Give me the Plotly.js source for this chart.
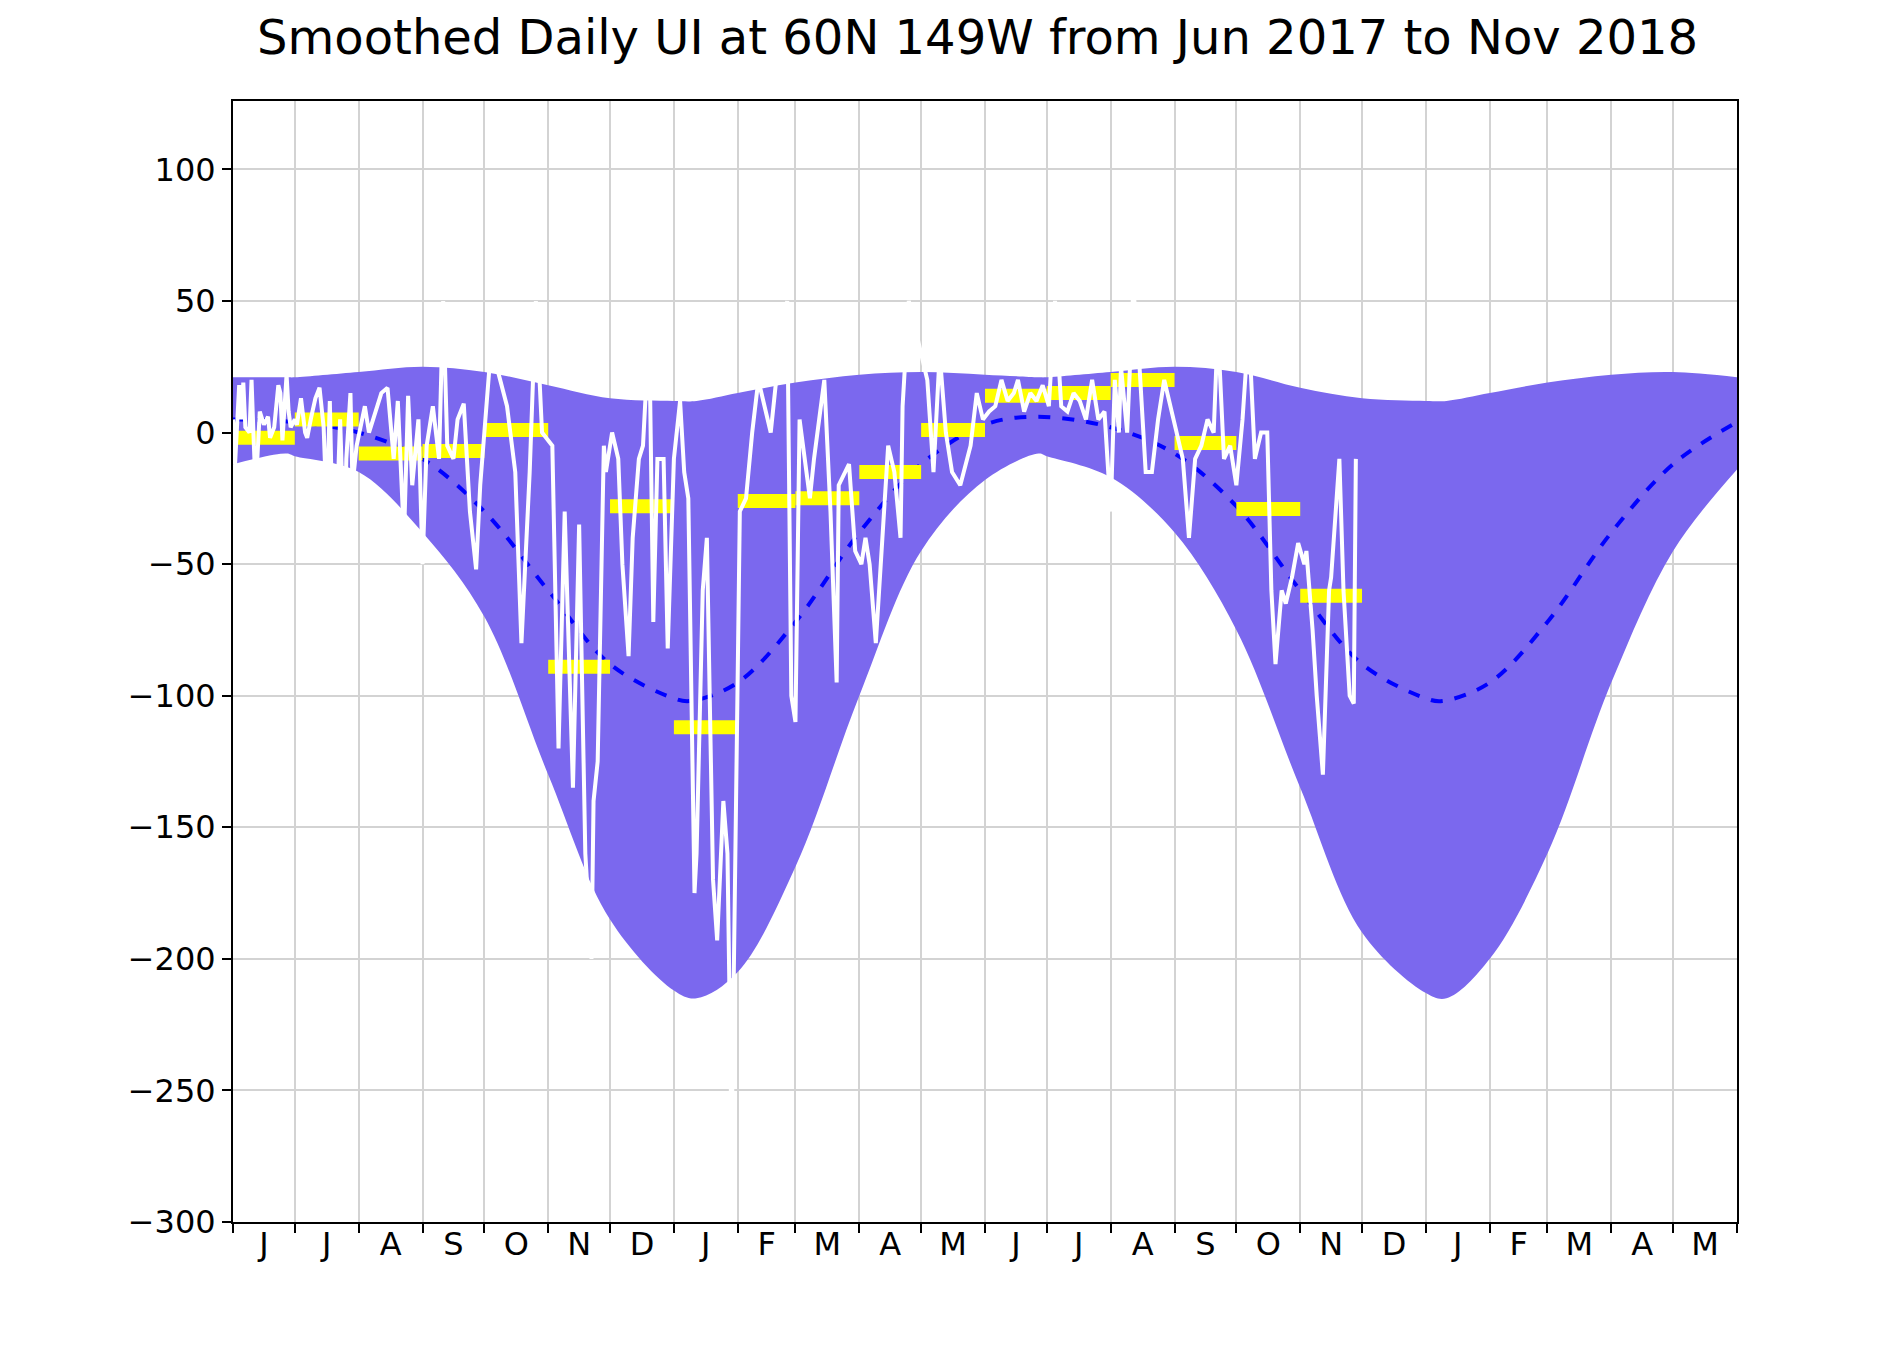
<!DOCTYPE html>
<html><head><meta charset="utf-8">
<script src="https://cdn.plot.ly/plotly-3.0.1.min.js"></script>
<style>body{margin:0;background:#fff}</style></head>
<body><div id="chart" style="width:1880px;height:1357px"></div>
<script>
// x = days since 1 Jun 2017
const monthStarts = [0,30,61,92,122,153,183,214,245,273,304,334,365,395,426,457,487,518,548,579,610,638,669,699,730];
const monthLabels = ['J','J','A','S','O','N','D','J','F','M','A','M','J','J','A','S','O','N','D','J','F','M','A','M'];

const bandDays  = [0,26,30,61,92,122,153,183,214,225,245,273,304,334,365,391,395,426,457,487,518,548,579,589,610,638,669,699,730];
const bandUpper = [21,21,21,23,25,23,18,13,12,12,15,19,22,23,22,21,21,23,25,23,17,13,12,12,15,19,22,23,21];
const bandLower = [-12,-8,-9,-15,-38,-70,-130,-185,-212,-215,-205,-165,-100,-45,-18,-8,-9,-17,-38,-75,-135,-190,-213,-215,-200,-160,-95,-45,-14];

const meanDays = [0,30,61,92,122,153,183,214,222,245,273,304,334,365,390,426,457,487,518,548,579,587,610,638,669,699,730];
const meanVals = [5,4,0,-10,-30,-60,-88,-101,-102,-95,-72,-38,-12,3,6,2,-8,-28,-60,-88,-101,-102,-95,-72,-38,-12,4];

const monthlyVals = [-2,5,-8,-7,1,-89,-28,-112,-26,-25,-15,1,14,15,20,-4,-29,-62];

const dailyDays = [0,1,3,4,5,6,8,9,10,11,13,15,17,18,20,22,23,24,26,27,28,30,31,33,35,36,38,40,42,44,45,46,47,48,50,52,54,55,57,58,60,
 64,66,69,72,75,78,80,83,85,87,90,92,94,97,100,102,104,107,109,112,115,118,120,125,128,133,137,140,144,147,150,155,158,161,165,168,171,174,175,177,180,181,184,187,189,192,194,197,199,202,204,206,209,211,214,217,219,221,224,225,228,230,233,235,238,240,242,246,249,252,255,258,261,265,269,271,273,275,280,282,287,290,293,294,299,302,305,307,309,312,315,318,321,324,325,328,331,334,337,340,343,346,349,353,358,361,364,367,370,373,376,379,381,384,387,390,393,396,399,402,405,408,411,414,417,420,423,426,428,430,431,434,437,440,443,446,449,452,455,458,461,464,467,470,473,476,478,481,484,487,490,493,496,499,502,504,506,509,511,514,517,520,521,524,526,529,532,533,536,537,539,542,544,545];
const dailyVals = [5,-12,18,5,19,2,0,20,-2,-22,8,3,6,-2,2,18,15,-3,22,8,2,5,3,13,0,-2,6,13,17,2,-20,-15,12,-25,-40,5,-45,-10,15,-20,-5,
 10,0,8,15,17,-10,12,-40,14,-20,5,-50,-5,10,-10,50,-5,-10,5,11,-30,-52,-20,30,25,10,-15,-80,-15,50,0,-5,-120,-30,-135,-35,-160,-200,-140,-125,-5,-15,0,-10,-50,-85,-40,-10,-5,40,-72,-10,-10,-82,-10,12,-15,-25,-175,-160,-60,-40,-170,-193,-140,-160,-270,-30,-25,0,20,10,0,30,50,-100,-110,5,-25,-10,20,-30,-95,-20,-12,-45,-50,-40,-50,-80,-40,-5,-15,-40,10,50,40,30,20,-15,30,0,-15,-20,-5,15,5,8,10,20,12,15,20,8,15,12,18,10,50,10,8,15,12,5,20,5,8,-30,20,0,25,0,55,25,-15,-15,5,20,10,0,-10,-40,-10,-5,5,0,40,-10,-5,-20,5,40,-10,0,0,-60,-88,-60,-65,-55,-42,-50,-45,-75,-100,-130,-60,-55,-20,-10,-60,-100,-103,-10];

const barX = [], barY = [];
monthlyVals.forEach((v,i)=>{ barX.push(monthStarts[i], monthStarts[i+1], null); barY.push(v, v, null); });
const midMonths = monthStarts.slice(0,-1).map((d,i)=>(d+monthStarts[i+1])/2);

const traces = [
 {x:bandDays, y:bandLower, mode:'lines', line:{width:0, shape:'spline', color:'#7b68ee'}, hoverinfo:'skip'},
 {x:bandDays, y:bandUpper, mode:'lines', line:{width:0, shape:'spline', color:'#7b68ee'}, fill:'tonexty', fillcolor:'#7b68ee', hoverinfo:'skip'},
 {x:meanDays, y:meanVals, mode:'lines', line:{color:'#0000ff', width:4, dash:'dash', shape:'spline'}},
 {x:barX, y:barY, mode:'lines', line:{color:'#ffff00', width:14}},
 {x:dailyDays, y:dailyVals, mode:'lines', line:{color:'#ffffff', width:4}},
 {x:midMonths, y:midMonths.map(()=>null), xaxis:'x2', mode:'lines', showlegend:false}
];
const layout = {
 width:1880, height:1357, showlegend:false,
 paper_bgcolor:'#fff', plot_bgcolor:'#fff',
 margin:{l:233, r:143, t:101, b:135},
 font:{family:'DejaVu Sans', color:'#000'},
 title:{text:'Smoothed Daily UI at 60N 149W from Jun 2017 to Nov 2018', font:{size:48}, x:0.52, xanchor:'center', y:0.985, yanchor:'top'},
 xaxis:{range:[0,730], tickvals:monthStarts, ticktext:monthStarts.map(()=>''), ticks:'outside', ticklen:9, tickwidth:2, tickcolor:'#000',
   showgrid:true, gridcolor:'#d3d3d3', gridwidth:2, showline:true, linecolor:'#000', linewidth:2, mirror:true, zeroline:false},
 xaxis2:{overlaying:'x', matches:'x', side:'bottom', range:[0,730], tickvals:midMonths, ticktext:monthLabels, ticks:'', showgrid:false,
   zeroline:false, showline:false, tickfont:{size:32}},
 yaxis:{range:[-300,126], tickvals:[-300,-250,-200,-150,-100,-50,0,50,100], ticktext:['\u2212300','\u2212250','\u2212200','\u2212150','\u2212100','\u221250','0','50','100'],
   ticks:'outside', ticklen:9, tickwidth:2, tickcolor:'#000', tickfont:{size:32}, showgrid:true, gridcolor:'#d3d3d3', gridwidth:2,
   showline:true, linecolor:'#000', linewidth:2, mirror:true, zeroline:false}
};
Plotly.newPlot('chart', traces, layout, {displayModeBar:false});
</script></body></html>
